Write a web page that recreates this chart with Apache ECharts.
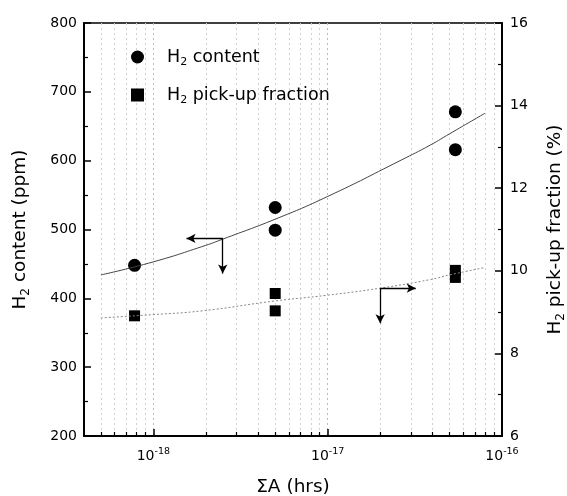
<!DOCTYPE html>
<html>
<head>
<meta charset="utf-8">
<script src="https://cdn.jsdelivr.net/npm/echarts@6/dist/echarts.min.js"></script>
<style>
  html, body { margin: 0; padding: 0; background: #fff; }
  #chart { width: 567px; height: 496px; }
</style>
</head>
<body>
<div id="chart"></div>
<script>
// measured points, ΣA (hrs) vs H2 content (ppm)
const contentX = [7.8e-19, 5e-18, 5e-18, 5.4e-17, 5.4e-17];
const contentY = [448, 532, 499, 671, 616];

// H2 pick-up fraction (%)
const pickupX = [7.8e-19, 5e-18, 5e-18, 5.4e-17, 5.4e-17];
const pickupY = [8.91, 9.45, 9.03, 10.01, 9.84];

// fitted curves
const contentFitX = [5e-19, 1e-18, 2e-18, 2.5e-18, 5e-18, 1e-17, 2.6e-17, 3.9e-17, 5e-17, 8e-17];
const contentFitY = [434, 453, 477, 486, 515, 548, 600, 623, 639, 669];
const pickupFitX = [5e-19, 1e-18, 1.9e-18, 5e-18, 1e-17, 2e-17, 3.9e-17, 5e-17, 8e-17];
const pickupFitY = [8.86, 8.94, 9.03, 9.27, 9.41, 9.58, 9.79, 9.90, 10.08];

// arrows pointing at the axis each curve belongs to
const contentArrowCorner = [2.5e-18, 487];
const contentArrowTipX = 1.55e-18;
const contentArrowTipY = 436;
const pickupArrowCorner = [2e-17, 9.58];
const pickupArrowTipX = 3.2e-17;
const pickupArrowTipY = 8.73;

// axis ranges / ticks
const xMin = 4e-19, xMax = 1e-16;
const xMinorTicks = [5e-19, 6e-19, 7e-19, 8e-19, 9e-19,
  2e-18, 3e-18, 4e-18, 5e-18, 6e-18, 7e-18, 8e-18, 9e-18,
  2e-17, 3e-17, 4e-17, 5e-17, 6e-17, 7e-17, 8e-17, 9e-17];
const leftMin = 200, leftMax = 800, leftStep = 100;
const rightMin = 6, rightMax = 16, rightStep = 2;

const pairs = (xs, ys) => xs.map((x, i) => [x, ys[i]]);

const font = 'DejaVu Sans, Verdana, sans-serif';
const subRich = {
  a: { fontSize: 18.5, fontFamily: font, color: '#000', lineHeight: 24 },
  s: { fontSize: 12, fontFamily: font, color: '#000', lineHeight: 11, verticalAlign: 'bottom' }
};

const chart = echarts.init(document.getElementById('chart'));

const option = {
  animation: false,
  backgroundColor: '#fff',
  grid: {
    left: 84, right: 65, top: 23, bottom: 60,
    outerBoundsMode: 'none',
    containLabel: false,
    show: true, borderColor: '#000', borderWidth: 1.5
  },
  legend: {
    orient: 'vertical',
    left: 126, top: 43,
    itemGap: 18,
    itemWidth: 13, itemHeight: 13,
    data: [
      { name: 'content', icon: 'circle' },
      { name: 'pickup', icon: 'rect', itemStyle: { color: '#000' } }
    ],
    formatter: name => name === 'content'
      ? '{g|}{a|H}{s|2}{a| content}'
      : '{g|}{a|H}{s|2}{a| pick-up fraction}',
    textStyle: {
      rich: {
        g: { width: 18 },
        a: { fontSize: 17.5, fontFamily: font, color: '#000', lineHeight: 22 },
        s: { fontSize: 11, fontFamily: font, color: '#000', lineHeight: 10, verticalAlign: 'bottom' }
      }
    }
  },
  xAxis: [
    {
      type: 'log', logBase: 10, min: xMin, max: xMax,
      name: '{a|ΣA (hrs)}',
      nameLocation: 'middle', nameGap: 39,
      nameTextStyle: { rich: subRich },
      axisLine: { lineStyle: { color: '#000', width: 2 } },
      axisTick: { inside: true, length: 7, lineStyle: { color: '#000', width: 1.5 } },
      axisLabel: {
        margin: 11,
        formatter: v => {
          const e = Math.round(Math.log10(v));
          if (Math.abs(v - Math.pow(10, e)) / v > 1e-6) return '';
          return '{b|10}{p|' + e + '}';
        },
        rich: {
          b: { fontSize: 14, fontFamily: font, color: '#000', lineHeight: 18 },
          p: { fontSize: 9.5, fontFamily: font, color: '#000', lineHeight: 9, verticalAlign: 'top' }
        }
      },
      splitLine: { show: true, lineStyle: { color: '#bbb', type: [2, 3], width: 1 } }
    },
    {
      type: 'log', logBase: 10, min: xMin, max: xMax,
      position: 'bottom',
      axisLine: { show: false },
      axisLabel: { show: false },
      axisTick: {
        inside: true, length: 4, customValues: xMinorTicks,
        lineStyle: { color: '#000', width: 1.2 }
      },
      splitLine: { show: true, lineStyle: { color: '#d0d0d0', type: [2, 3], width: 1 } }
    }
  ],
  yAxis: [
    {
      type: 'value', min: leftMin, max: leftMax, interval: leftStep,
      name: '{a|H}{s|2}{a| content (ppm)}',
      nameLocation: 'middle', nameGap: 52, nameRotate: 90,
      nameTextStyle: { rich: subRich },
      axisLine: { show: true, lineStyle: { color: '#000', width: 2 } },
      axisTick: { inside: true, length: 7, lineStyle: { color: '#000', width: 1.5 } },
      minorTick: { show: true, splitNumber: 2, length: 4, lineStyle: { color: '#000', width: 1.2 } },
      axisLabel: { fontSize: 14, fontFamily: font, color: '#000', margin: 7 },
      splitLine: { show: false }
    },
    {
      type: 'value', min: rightMin, max: rightMax, interval: rightStep,
      position: 'right',
      name: '{a|H}{s|2}{a| pick-up fraction (%)}',
      nameLocation: 'middle', nameGap: 41, nameRotate: 90,
      nameTextStyle: { rich: subRich },
      axisLine: { show: true, lineStyle: { color: '#000', width: 2 } },
      axisTick: { inside: true, length: 7, lineStyle: { color: '#000', width: 1.5 } },
      minorTick: { show: true, splitNumber: 2, length: 4, lineStyle: { color: '#000', width: 1.2 } },
      axisLabel: { fontSize: 14, fontFamily: font, color: '#000', margin: 8 },
      splitLine: { show: false }
    }
  ],
  series: [
    {
      name: 'contentFit', type: 'line', smooth: true, showSymbol: false,
      xAxisIndex: 0, yAxisIndex: 0,
      data: pairs(contentFitX, contentFitY),
      lineStyle: { color: '#444', width: 1 },
      markLine: {
        silent: true, symbol: ['none', 'arrow'], symbolSize: [7, 9],
        label: { show: false },
        lineStyle: { color: '#000', width: 1.3, type: 'solid' },
        data: [
          [{ coord: contentArrowCorner }, { coord: [contentArrowTipX, contentArrowCorner[1]] }],
          [{ coord: contentArrowCorner }, { coord: [contentArrowCorner[0], contentArrowTipY] }]
        ]
      }
    },
    {
      name: 'pickupFit', type: 'line', smooth: true, showSymbol: false,
      xAxisIndex: 0, yAxisIndex: 1,
      data: pairs(pickupFitX, pickupFitY),
      lineStyle: { color: '#888', width: 1, type: [2, 2] },
      markLine: {
        silent: true, symbol: ['none', 'arrow'], symbolSize: [7, 9],
        label: { show: false },
        lineStyle: { color: '#000', width: 1.3, type: 'solid' },
        data: [
          [{ coord: pickupArrowCorner }, { coord: [pickupArrowTipX, pickupArrowCorner[1]] }],
          [{ coord: pickupArrowCorner }, { coord: [pickupArrowCorner[0], pickupArrowTipY] }]
        ]
      }
    },
    {
      name: 'content', type: 'scatter',
      xAxisIndex: 0, yAxisIndex: 0,
      symbol: 'circle', symbolSize: 13,
      itemStyle: { color: '#000', opacity: 1 },
      data: pairs(contentX, contentY)
    },
    {
      name: 'pickup', type: 'scatter',
      xAxisIndex: 0, yAxisIndex: 1,
      symbol: 'rect', symbolSize: 11,
      itemStyle: { color: '#000', opacity: 1 },
      data: pairs(pickupX, pickupY)
    }
  ]
};

chart.setOption(option);
</script>
</body>
</html>
